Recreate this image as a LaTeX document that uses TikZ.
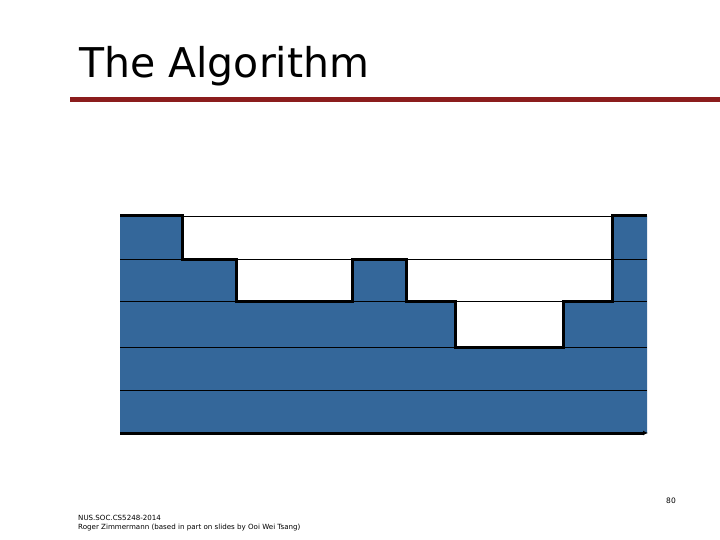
\documentclass[tikz,border=0pt]{standalone}
\usepackage{fontspec}
\setmainfont{DejaVu Sans}
\usetikzlibrary{arrows.meta}
\definecolor{slideRed}{HTML}{8B1D1D}
\definecolor{slideBlue}{HTML}{34679A}

\begin{document}
\begin{tikzpicture}[x=1pt,y=-1pt,>=Latex,line join=miter]
\path[fill=white] (0,0) rectangle (720,540);
\node[anchor=base west,inner sep=0pt,font=\fontsize{41}{41}\selectfont] (title) at (79,78) {The Algorithm};
\path[fill=slideRed] (70,97.5) rectangle (720,102.5);
\tikzset{level/.style={draw=black,line width=0.9pt},profile/.style={draw=black,line width=3pt},axis/.style={draw=black,line width=3pt,-{Latex[length=5pt,width=5pt]}},foot/.style={anchor=base west,inner sep=0pt,font=\fontsize{7.1}{8}\selectfont}}
% filled levels under the profile
\path[fill=slideBlue] (120,216) -- (182,216) -- (182,259) -- (236,259) -- (236,301) -- (352,301) -- (352,259) -- (406,259) -- (406,301) -- (455,301) -- (455,347) -- (563,347) -- (563,301) -- (612,301) -- (612,216) -- (647,216) -- (647,433) -- (120,433) -- cycle;
\foreach \y in {216,259,301,347,390}
  \draw[level] (120,\y) -- (647,\y);
\draw[profile] (120,216) -- (182,216) -- (182,259) -- (236,259) -- (236,301) -- (352,301) -- (352,259) -- (406,259) -- (406,301) -- (455,301) -- (455,347) -- (563,347) -- (563,301) -- (612,301) -- (612,216) -- (647,216);
\draw[axis] (120,433) -- (648,433);
\node[anchor=base,inner sep=0pt,font=\fontsize{7.5}{8}\selectfont] (pageno) at (671,503) {80};
\node[foot] (course) at (78,520) {NUS.SOC.CS5248-2014};
\node[foot] (author) at (78,529) {Roger Zimmermann (based in part on slides by Ooi Wei Tsang)};
\end{tikzpicture}
\end{document}
